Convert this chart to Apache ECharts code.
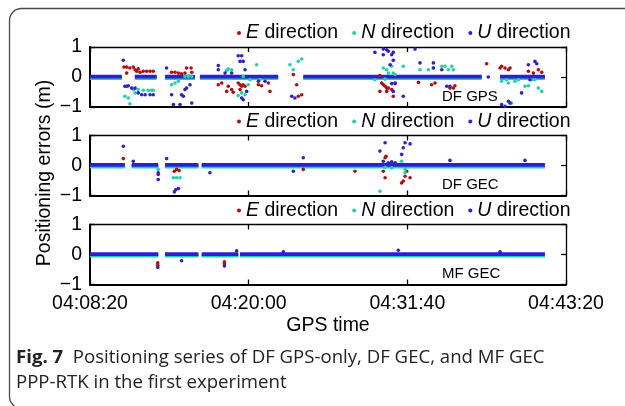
<!DOCTYPE html>
<html>
<head>
<meta charset="utf-8">
<script src="https://cdn.jsdelivr.net/npm/echarts@6/dist/echarts.min.js"></script>
<style>
  html, body { margin: 0; padding: 0; background: #fff; }
  #main { width: 625px; height: 406px; }
</style>
</head>
<body>
<div id="main"></div>
<script>
// time is seconds after 04:08:20
const xTicks = [0, 700, 1400, 2100];
const xTickLabels = ['04:08:20', '04:20:00', '04:31:40', '04:43:20'];
const directions = ['E', 'N', 'U'];
const panelNames = ['DF GPS', 'DF GEC', 'MF GEC'];

// continuous near-zero stretches [start, end] per panel
const dfGpsSegments = [[0, 140], [198, 294], [331, 463], [485, 830], [941, 1728], [1809, 2007]];
const dfGecSegments = [[0, 154], [184, 301], [331, 478], [493, 2007]];
const mfGecSegments = [[0, 301], [331, 478], [493, 654], [662, 2007]];
// baseline level of E, N, U in each panel
const baseLevels = [[-0.01, -0.04, 0.01], [-0.02, -0.04, 0.02], [-0.02, -0.04, 0.01]];

// outliers [t, value]
const dfGpsE = [[150, 0.33], [162, 0.33], [162, 0.13], [176, 0.30], [191, 0.33], [199, 0.24], [206, 0.19], [213, 0.27],
  [221, 0.16], [235, 0.19], [250, 0.19], [265, 0.19], [279, 0.19], [360, 0.16], [375, 0.16], [390, 0.13], [404, 0.11],
  [419, 0.13], [426, 0.30], [446, 0.30], [449, 0.16], [566, -0.26], [581, -0.2], [603, -0.48], [610, -0.31], [625, -0.42],
  [632, -0.51], [654, -0.2], [662, -0.26], [669, -0.31], [684, -0.31], [662, -0.42], [676, -0.26], [743, -0.26], [757, -0.29],
  [787, -0.2], [794, -0.48], [897, 0.08], [912, -0.26], [919, -0.64], [934, -0.59], [1279, 0.05], [1287, -0.2], [1294, -0.26],
  [1302, -0.31], [1309, -0.37], [1316, -0.37], [1331, -0.42], [1346, -0.22], [1279, -0.48], [1338, -0.64], [1309, -0.48],
  [1449, -0.18], [1507, -0.26], [1522, -0.2], [1588, -0.37], [1603, -0.37], [1610, -0.29], [1750, 0.44], [1809, 0.3],
  [1816, 0.36], [1831, 0.3], [1846, 0.24], [1853, 0.3], [1934, 0.19], [1956, 0.13], [1978, 0.24], [1993, 0.16]];
const dfGpsN = [[154, -0.64], [169, -0.7], [176, -0.89], [191, -0.42], [199, -0.53], [213, -0.42], [235, -0.44], [257, -0.44],
  [272, -0.44], [279, -0.44], [360, -0.26], [375, -0.2], [390, -0.14], [419, 0.02], [434, 0.02], [449, 0.02], [603, 0.22],
  [610, 0.27], [625, 0.24], [676, 0.02], [698, -0.26], [669, -0.53], [654, -0.62], [684, -0.59], [735, 0.41], [706, -0.09],
  [750, -0.09], [882, 0.41], [897, 0.24], [919, 0.52], [934, 0.6], [1257, -0.09], [1294, 0.3], [1309, 0.24], [1316, 0.13],
  [1331, 0.36], [1338, 0.13], [1346, 0.08], [1382, 0.36], [1456, 0.24], [1493, 0.24], [1515, 0.3], [1552, 0.36], [1566, 0.36],
  [1581, 0.24], [1596, 0.36], [1603, 0.24], [1302, -0.07], [1816, -0.14], [1838, -0.09], [1846, -0.2], [1875, -0.14],
  [1890, -0.09], [1860, -0.87], [1919, -0.31], [1934, -0.29], [1949, -0.09], [1963, -0.09], [1978, -0.37], [1993, -0.48]];
const dfGpsU = [[147, 0.56], [154, -0.31], [162, -0.31], [169, -0.29], [184, -0.37], [199, -0.37], [213, -0.53], [228, -0.59],
  [243, -0.59], [265, -0.59], [279, -0.59], [338, 0.3], [360, -0.59], [368, -0.92], [397, -0.92], [404, -0.59], [419, -0.42],
  [426, -0.37], [441, -0.26], [449, -0.87], [412, -0.64], [566, 0.38], [566, 0.24], [596, 0.13], [625, 0.13], [654, 0.71],
  [669, 0.71], [662, 0.52], [676, 0.52], [684, 0.24], [691, -0.48], [676, -0.76], [669, -0.7], [743, -0.14], [772, -0.14],
  [890, -0.64], [904, -0.7], [1257, 0.82], [1294, 0.93], [1309, 0.91], [1316, 0.86], [1338, 0.82], [1294, 0.74], [1331, 0.74],
  [1338, 0.56], [1324, 0.41], [1331, -0.22], [1346, -0.2], [1338, -0.48], [1382, -0.64], [1434, 0.93], [1456, 0.47],
  [1515, 0.47], [1515, 0.3], [1552, 0.24], [1574, -0.31], [1588, -0.31], [1757, 0], [1816, -0.92], [1831, -0.98],
  [1846, -0.81], [1853, -0.87], [1904, -0.53], [1934, 0.41], [1963, 0.52], [1971, 0.44], [1941, -0.09]];

const dfGecE = [[147, 0.23], [301, -0.3], [372, -0.19], [382, -0.13], [393, -0.17], [941, -0.13], [1169, -0.19], [1302, 0.26],
  [1306, 0.31], [1302, -0.41], [1375, -0.58], [1382, -0.52], [1390, -0.36], [1412, -0.41], [1397, -0.19], [1294, -0.19]];
const dfGecN = [[368, -0.41], [382, -0.41], [397, -0.41], [301, -0.13], [1279, -0.86], [1375, 0.14], [1390, -0.13],
  [1390, -0.24], [1331, -0.08], [1302, -0.06]];
const dfGecU = [[147, 0.64], [191, 0.14], [301, -0.24], [301, -0.47], [338, 0.23], [372, -0.88], [378, -0.81], [390, -0.77],
  [529, -0.24], [941, 0.26], [897, -0.19], [1302, 0.76], [1390, 0.76], [1412, 0.72], [1382, 0.59], [1375, 0.37], [1279, 0.48],
  [1294, 0.14], [1316, 0.09], [1331, 0.12], [1346, 0.09], [1588, 0.17], [1919, 0.17]];

const mfGecE = [[299, -0.28], [299, -0.36], [593, -0.24], [593, -0.31]];
const mfGecN = [];
const mfGecU = [[299, -0.43], [404, -0.21], [593, -0.38], [647, 0.12], [853, 0.09], [1360, 0.14], [1809, 0.09]];

const colors = { E: '#b50d0d', N: '#1ed3ab', U: '#2c1fd6' };
const FONT = 'Liberation Sans, Arial, sans-serif';
const CAPTION_FONT = 'Open Sans, sans-serif';
const gridTops = [47, 135.5, 224.5];
const segments = [dfGpsSegments, dfGecSegments, mfGecSegments];
const outliers = [[dfGpsE, dfGpsN, dfGpsU], [dfGecE, dfGecN, dfGecU], [mfGecE, mfGecN, mfGecU]];

function baseline(segs, level) {
  let out = [];
  segs.forEach(s => {
    out.push([s[0], level], [s[1], level], [s[1] + 1, '-']);
  });
  return out;
}

let grids = [], xAxes = [], yAxes = [], series = [], legends = [], graphics = [];
gridTops.forEach((top, i) => {
  grids.push({ left: 90, right: 59, top: top, height: 60, show: false });
  let tickStyle = { show: true, inside: true, length: 5, lineStyle: { color: '#000', width: 1.3 } };
  xAxes.push({
    gridIndex: i, type: 'value', min: 0, max: 2100, interval: 700, position: 'bottom',
    axisLine: { onZero: false, lineStyle: { color: '#000', width: 2 } },
    axisTick: tickStyle, splitLine: { show: false },
    axisLabel: {
      show: i === 2, color: '#000', fontSize: 19.5, fontFamily: FONT, margin: 9,
      formatter: v => xTickLabels[xTicks.indexOf(v)]
    }
  });
  xAxes.push({
    gridIndex: i, type: 'value', min: 0, max: 2100, interval: 700, position: 'top',
    axisLine: { onZero: false, lineStyle: { color: '#000', width: 1.3 } },
    axisTick: tickStyle, axisLabel: { show: false }, splitLine: { show: false }
  });
  yAxes.push({
    gridIndex: i, type: 'value', min: -1, max: 1, interval: 1, position: 'left',
    axisLine: { show: true, onZero: false, lineStyle: { color: '#000', width: 2 } },
    axisTick: tickStyle, splitLine: { show: false },
    axisLabel: {
      color: '#000', fontSize: 19.5, fontFamily: FONT, margin: 8,
      formatter: v => (v < 0 ? '\u2212' + Math.abs(v) : String(v))
    }
  });
  yAxes.push({
    gridIndex: i, type: 'value', min: -1, max: 1, interval: 1, position: 'right',
    axisLine: { show: true, onZero: false, lineStyle: { color: '#000', width: 1.3 } },
    axisTick: tickStyle, axisLabel: { show: false }, splitLine: { show: false }
  });

  directions.forEach((d, k) => {
    series.push({
      name: d, type: 'line', xAxisIndex: 2 * i, yAxisIndex: 2 * i,
      data: baseline(segments[i], baseLevels[i][k]),
      showSymbol: false, connectNulls: false, silent: true, z: 2 + k,
      itemStyle: { color: colors[d] },
      lineStyle: { color: colors[d], width: k === 0 ? 3 : 3.8 }
    });
  });
  directions.forEach((d, k) => {
    series.push({
      name: d, type: 'scatter', xAxisIndex: 2 * i, yAxisIndex: 2 * i,
      data: outliers[i][k], symbolSize: 3.6, z: 6 + k,
      itemStyle: { color: colors[d], opacity: 1 }
    });
  });

  legends.push({
    data: directions, left: 237, top: top - 24, padding: 0,
    icon: 'circle', itemWidth: 4, itemHeight: 4, itemGap: 14,
    selectedMode: false,
    formatter: n => '{i|' + n + '}{t| direction}',
    textStyle: {
      color: '#000', fontSize: 19.5, fontFamily: FONT,
      rich: {
        i: { fontStyle: 'italic', fontSize: 19.5, fontFamily: FONT, color: '#000' },
        t: { fontSize: 19.5, fontFamily: FONT, color: '#000' }
      }
    }
  });

  graphics.push({
    type: 'text', left: 442, top: top + 42,
    style: { text: panelNames[i], fontSize: 15, fontFamily: FONT, fill: '#000' }
  });
});

// frame and texts
graphics.push({
  type: 'rect', shape: { x: 9.5, y: 8.5, width: 700, height: 400, r: 12 },
  style: { fill: 'none', stroke: '#4a4a4a', lineWidth: 1.3 }, z: -1
});
graphics.push({
  type: 'text', x: 45, y: 173, rotation: Math.PI / 2,
  style: { text: 'Positioning errors (m)', fontSize: 19.5, fontFamily: FONT, fill: '#000', align: 'center', verticalAlign: 'middle' }
});
graphics.push({
  type: 'text', x: 328, y: 326,
  style: { text: 'GPS time', fontSize: 19.5, fontFamily: FONT, fill: '#000', align: 'center', verticalAlign: 'middle' }
});
graphics.push({
  type: 'text', x: 16, y: 358,
  style: {
    text: '{b|Fig. 7}  Positioning series of DF GPS-only, DF GEC, and MF GEC',
    fontSize: 18.6, fontFamily: CAPTION_FONT, fill: '#222', verticalAlign: 'middle',
    rich: { b: { fontWeight: 'bold', fontSize: 18.6, fontFamily: CAPTION_FONT, fill: '#222' } }
  }
});
graphics.push({
  type: 'text', x: 16, y: 383,
  style: { text: 'PPP-RTK in the first experiment', fontSize: 18.6, fontFamily: CAPTION_FONT, fill: '#222', verticalAlign: 'middle' }
});

const chart = echarts.init(document.getElementById('main'));
chart.setOption({
  animation: false,
  backgroundColor: '#fff',
  grid: grids, xAxis: xAxes, yAxis: yAxes,
  legend: legends, series: series, graphic: graphics
});
</script>
</body>
</html>
